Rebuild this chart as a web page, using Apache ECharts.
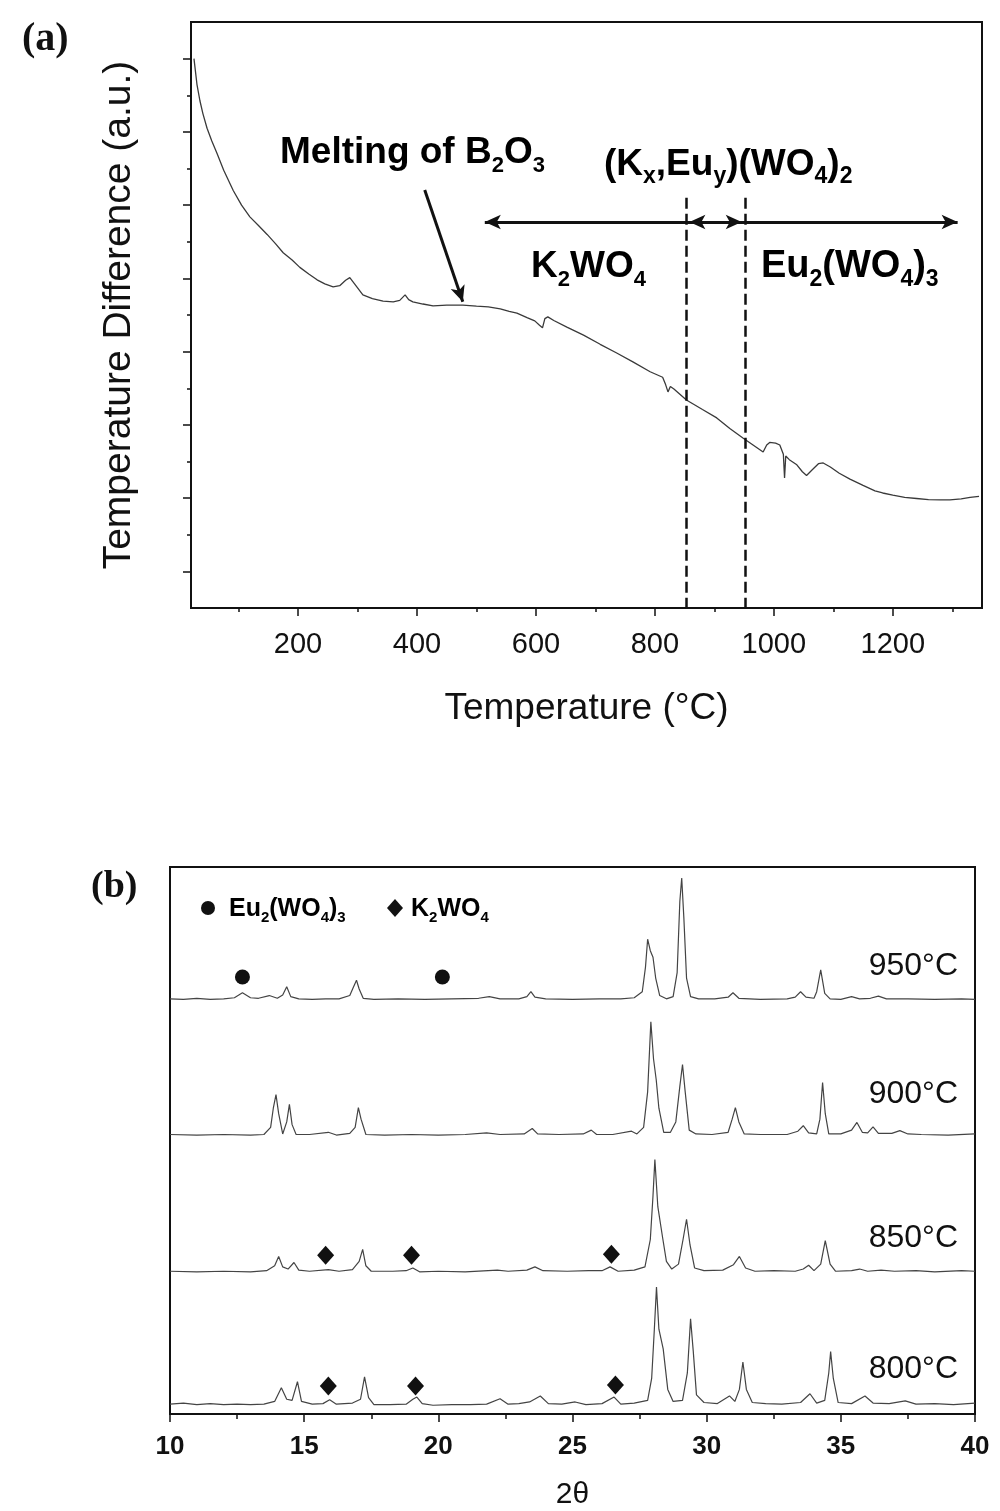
<!DOCTYPE html>
<html><head><meta charset="utf-8">
<script src="https://cdn.jsdelivr.net/npm/echarts@6/dist/echarts.min.js"></script>
<style>html,body{margin:0;padding:0;background:#fff}#c{width:1000px;height:1511px}</style>
</head><body><div id="c"></div>
<script>
// ---------- Panel (a): DTA ----------
const dtaTemperature = [25,30,35,40,47,55,64,75,91,105,119,133,148,162,175,190,203,218,232,245,259,270,280,287,295,309,325,343,360,371,380,386,393,410,427,450,477,500,520,540,555,568,585,598,606,611,615,620,630,652,680,708,735,763,792,813,818,822,826,832,853,880,904,926,948,965,982,988,993,1003,1010,1016,1018,1020,1026,1038,1048,1055,1065,1075,1083,1095,1110,1128,1150,1170,1183,1200,1220,1240,1260,1280,1296,1315,1330,1345];
const dtaDifference = [15.0,14.3,13.85,13.5,13.1,12.75,12.4,11.95,11.4,11.0,10.68,10.45,10.2,9.95,9.7,9.5,9.3,9.12,8.96,8.85,8.77,8.8,8.95,9.02,8.85,8.55,8.45,8.38,8.36,8.4,8.55,8.42,8.36,8.3,8.25,8.27,8.27,8.24,8.22,8.17,8.1,8.05,7.93,7.84,7.72,7.65,7.9,7.95,7.85,7.67,7.45,7.2,6.97,6.72,6.45,6.3,6.1,5.9,6.05,5.98,5.68,5.42,5.19,4.9,4.64,4.45,4.26,4.45,4.52,4.5,4.45,4.2,3.55,4.15,4.05,3.92,3.72,3.62,3.78,3.94,3.96,3.85,3.68,3.52,3.35,3.2,3.14,3.08,3.02,2.99,2.96,2.95,2.95,2.98,3.02,3.05];
const tempMajorTicks = [200,400,600,800,1000,1200];
const tempMinorTicks = [100,300,500,700,900,1100,1300];
const diffMajorTicks = [1,3,5,7,9,11,13,15];
const diffMinorTicks = [2,4,6,8,10,12,14];
const phaseBoundaries = [852,952];          // dashed lines (°C)
const boundaryTop = 11.2;
const phaseArrowY = 10.54;
const phaseArrowSpan = [514,1309];
const middleArrowSpan = [858,946];
const meltingArrow = [[413,11.41],[477,8.36]];

// ---------- Panel (b): XRD ----------
const xrdTicks = [10,15,20,25,30,35,40];
const xrdLabels = ['950°C','900°C','850°C','800°C'];
const xrdOffsets = [75.7,50.9,25.9,1.5];
const xrd950 = [[10,0.2],[10.5,0.1],[11,0.3],[11.5,0.1],[12,0.2],[12.4,0.4],[12.7,1.3],[13.0,0.4],[13.3,0.3],[13.7,0.8],[14.0,0.3],[14.2,0.9],[14.35,2.4],[14.5,0.6],[14.8,0.2],[15.3,0.1],[15.8,0.2],[16.3,0.2],[16.7,0.8],[16.85,2.5],[16.95,3.6],[17.05,2.0],[17.2,0.3],[17.6,0.1],[18.5,0.2],[19.5,0.1],[20.5,0.2],[21.5,0.3],[21.9,0.6],[22.3,0.2],[23.0,0.2],[23.3,0.6],[23.45,1.5],[23.6,0.5],[24,0.2],[25,0.1],[26,0.2],[26.8,0.2],[27.3,0.4],[27.6,1.5],[27.72,6.0],[27.8,11.1],[27.9,9.0],[28.0,7.8],[28.1,4.0],[28.25,0.8],[28.5,0.2],[28.75,0.6],[28.9,5.0],[29.0,18.0],[29.07,22.3],[29.15,15.0],[29.25,4.0],[29.4,0.6],[29.7,0.2],[30.3,0.2],[30.8,0.5],[30.98,1.3],[31.2,0.3],[32,0.1],[33,0.2],[33.3,0.5],[33.5,1.5],[33.7,0.5],[34.0,0.3],[34.1,1.5],[34.25,5.5],[34.4,1.2],[34.6,0.2],[35.0,0.1],[35.4,0.6],[35.7,0.2],[36.1,0.3],[36.4,0.7],[36.7,0.2],[37.5,0.2],[38.5,0.1],[39.5,0.2],[40,0.1]];
const xrd900 = [[10,0.2],[11,0.1],[12,0.2],[13,0.1],[13.5,0.2],[13.75,1.5],[13.85,5.0],[13.95,7.5],[14.05,4.0],[14.2,0.3],[14.35,2.5],[14.45,5.7],[14.55,2.0],[14.7,0.2],[15.2,0.2],[15.9,0.6],[16.2,0.1],[16.7,0.4],[16.9,1.5],[17.02,5.1],[17.12,3.0],[17.3,0.2],[18,0.1],[19,0.2],[20,0.1],[21,0.2],[21.8,0.5],[22.3,0.2],[23.2,0.3],[23.5,1.3],[23.7,0.3],[24.5,0.2],[25.4,0.3],[25.7,1.0],[25.9,0.2],[26.5,0.2],[27.2,0.8],[27.4,0.3],[27.65,1.5],[27.8,8.0],[27.92,20.8],[28.02,14.0],[28.12,10.2],[28.22,5.0],[28.4,0.6],[28.65,0.6],[28.85,2.5],[29.0,9.0],[29.1,13.0],[29.2,8.0],[29.35,1.0],[29.6,0.3],[30.2,0.2],[30.8,0.6],[30.95,3.0],[31.07,5.1],[31.2,2.5],[31.4,0.3],[32,0.2],[33,0.2],[33.4,0.8],[33.6,1.8],[33.8,0.5],[34.1,0.3],[34.22,3.0],[34.32,9.7],[34.42,4.0],[34.55,0.3],[35.0,0.3],[35.4,1.0],[35.6,2.4],[35.8,0.6],[36.0,0.5],[36.2,1.6],[36.4,0.4],[36.9,0.4],[37.2,0.9],[37.5,0.3],[38,0.2],[39,0.1],[40,0.3]];
const xrd850 = [[10,0.2],[11,0.1],[12,0.2],[13,0.1],[13.6,0.3],[13.9,1.2],[14.05,2.9],[14.2,1.0],[14.4,0.6],[14.62,1.8],[14.8,0.4],[15.2,0.2],[15.9,0.5],[16.3,0.2],[16.8,0.5],[17.05,2.0],[17.18,4.2],[17.3,1.2],[17.5,0.2],[18.3,0.2],[18.8,0.3],[19.05,0.8],[19.3,0.1],[20,0.2],[21,0.1],[22.2,0.4],[22.6,0.2],[23.3,0.4],[23.6,1.0],[23.9,0.3],[24.8,0.2],[25.6,0.3],[26.1,0.3],[26.4,1.0],[26.7,0.2],[27.3,0.4],[27.7,1.0],[27.9,6.0],[28.0,14.0],[28.07,20.6],[28.18,12.0],[28.35,6.6],[28.5,2.0],[28.7,0.6],[28.95,1.5],[29.12,6.0],[29.25,9.7],[29.38,5.0],[29.55,0.8],[29.9,0.3],[30.6,0.4],[31.0,1.4],[31.22,2.9],[31.45,0.8],[31.8,0.2],[32.5,0.3],[33.3,0.2],[33.6,0.6],[33.8,1.3],[34.0,0.3],[34.25,1.5],[34.42,5.8],[34.6,1.5],[34.8,0.2],[35.4,0.3],[35.7,0.6],[36.0,0.2],[36.5,0.4],[37,0.2],[37.8,0.3],[38.5,0.1],[39.5,0.3],[40,0.2]];
const xrd800 = [[10,0.3],[10.5,0.5],[11,0.2],[11.5,0.4],[12,0.2],[12.5,0.3],[13,0.2],[13.5,0.3],[13.9,0.8],[14.15,3.3],[14.35,1.2],[14.55,1.0],[14.75,4.4],[14.9,0.8],[15.3,0.3],[15.7,0.4],[15.95,1.1],[16.2,0.3],[16.8,0.5],[17.1,1.2],[17.25,5.3],[17.4,1.5],[17.6,0.2],[18.2,0.2],[18.8,0.3],[19.05,1.2],[19.2,1.6],[19.4,0.4],[19.8,0.1],[20.5,0.2],[21.2,0.2],[21.8,0.3],[22.3,1.3],[22.6,0.3],[23.0,0.4],[23.4,0.7],[23.8,1.8],[24.1,0.4],[24.6,0.3],[25.1,0.7],[25.5,0.2],[26.1,0.4],[26.55,1.6],[26.8,0.3],[27.3,0.5],[27.8,1.0],[27.95,5.0],[28.05,14.0],[28.13,21.7],[28.22,14.0],[28.38,10.4],[28.55,3.0],[28.75,0.8],[29.1,1.0],[29.28,6.0],[29.4,15.9],[29.5,10.0],[29.62,2.0],[29.9,0.6],[30.4,0.4],[30.85,1.8],[31.05,0.8],[31.22,3.0],[31.35,8.0],[31.48,3.0],[31.7,0.6],[32.2,0.4],[32.8,0.3],[33.5,0.6],[33.85,2.2],[34.1,0.5],[34.4,1.0],[34.55,6.0],[34.62,9.9],[34.72,5.0],[34.9,0.6],[35.4,0.4],[35.9,1.8],[36.2,0.5],[36.8,0.4],[37.4,0.9],[37.8,0.3],[38.5,0.4],[39.2,0.2],[40,0.5]];
const eu2wo43Marks = [[12.7,79.9],[20.15,79.9]];
const k2wo4Marks = [[15.8,29.0],[19.0,29.0],[26.45,29.2],[15.9,5.1],[19.15,5.1],[26.6,5.3]];

const SANS = 'Liberation Sans, Arial, Helvetica, sans-serif';
const SERIF = 'Liberation Serif, Times New Roman, serif';
const INK = '#111';

const xrdSeriesData = [xrd950, xrd900, xrd850, xrd800];

function subRich(size, sub){
  return {
    m:{fontSize:size, fontWeight:'bold', fontFamily:SANS, color:INK, lineHeight:size},
    s:{fontSize:sub, fontWeight:'bold', fontFamily:SANS, color:INK, verticalAlign:'bottom', lineHeight:Math.round(size*1.28)}
  };
}
const plain = v => String(v);

const option = {
  animation:false,
  backgroundColor:'#fff',
  grid:[
    {left:191, top:22, width:791, height:586, show:true, borderColor:INK, borderWidth:2, backgroundColor:'transparent'},
    {left:170, top:867, width:805, height:548, show:true, borderColor:INK, borderWidth:2, backgroundColor:'transparent'}
  ],
  xAxis:[
    {gridIndex:0, type:'value', min:20, max:1350, position:'bottom',
      axisLine:{lineStyle:{color:INK, width:2}},
      axisTick:{show:true, length:8, customValues:tempMajorTicks, lineStyle:{color:INK, width:1.5}},
      axisLabel:{customValues:tempMajorTicks, formatter:plain, fontSize:29, margin:22, color:INK, fontFamily:SANS},
      splitLine:{show:false},
      name:'Temperature (°C)', nameLocation:'middle', nameGap:82,
      nameTextStyle:{fontSize:37, color:INK, fontFamily:SANS}},
    {gridIndex:0, type:'value', min:20, max:1350, position:'bottom',
      axisLine:{show:false},
      axisTick:{show:true, length:4, customValues:tempMinorTicks, lineStyle:{color:INK, width:1.5}},
      axisLabel:{show:false}, splitLine:{show:false}},
    {gridIndex:1, type:'value', min:10, max:40, interval:5, position:'bottom',
      axisLine:{lineStyle:{color:INK, width:2}},
      axisTick:{show:true, length:8, lineStyle:{color:INK, width:1.5}},
      minorTick:{show:true, splitNumber:2, length:5, lineStyle:{color:INK, width:1.5}},
      axisLabel:{formatter:plain, fontSize:26, fontWeight:'bold', margin:20, color:INK, fontFamily:SANS},
      splitLine:{show:false},
      name:'2θ', nameLocation:'middle', nameGap:66,
      nameTextStyle:{fontSize:30, color:INK, fontFamily:SANS}}
  ],
  yAxis:[
    {gridIndex:0, type:'value', min:0, max:16, position:'left',
      axisLine:{show:true, lineStyle:{color:INK, width:2}},
      axisTick:{show:true, length:8, customValues:diffMajorTicks, lineStyle:{color:INK, width:1.5}},
      axisLabel:{show:false}, splitLine:{show:false},
      name:'Temperature Difference (a.u.)', nameLocation:'middle', nameGap:52,
      nameTextStyle:{fontSize:39, color:INK, fontFamily:SANS}},
    {gridIndex:0, type:'value', min:0, max:16, position:'left',
      axisLine:{show:false},
      axisTick:{show:true, length:4, customValues:diffMinorTicks, lineStyle:{color:INK, width:1.5}},
      axisLabel:{show:false}, splitLine:{show:false}},
    {gridIndex:1, type:'value', min:0, max:100, position:'left',
      axisLine:{show:true, lineStyle:{color:INK, width:2}},
      axisTick:{show:false}, axisLabel:{show:false}, splitLine:{show:false}}
  ],
  series:[
    {type:'line', xAxisIndex:0, yAxisIndex:0, showSymbol:false, silent:true,
      data: dtaTemperature.map((t,i)=>[t, dtaDifference[i]]),
      lineStyle:{color:'#3a3a3a', width:1.3},
      markLine:{silent:true, animation:false, label:{show:false}, emphasis:{disabled:true},
        symbolSize:[11,16],
        data:[
          [{coord:[phaseBoundaries[0], boundaryTop], symbol:'none', lineStyle:{type:[11,5], width:2.5, color:INK}},
           {coord:[phaseBoundaries[0], 0], symbol:'none'}],
          [{coord:[phaseBoundaries[1], boundaryTop], symbol:'none', lineStyle:{type:[11,5], width:2.5, color:INK}},
           {coord:[phaseBoundaries[1], 0], symbol:'none'}],
          [{coord:[phaseArrowSpan[0], phaseArrowY], symbol:'arrow', lineStyle:{type:'solid', width:3, color:INK}},
           {coord:[phaseArrowSpan[1], phaseArrowY], symbol:'arrow'}],
          [{coord:[middleArrowSpan[0], phaseArrowY], symbol:'arrow', lineStyle:{type:'solid', width:3, color:INK}},
           {coord:[middleArrowSpan[1], phaseArrowY], symbol:'arrow'}],
          [{coord:meltingArrow[0], symbol:'none', lineStyle:{type:'solid', width:3, color:INK}},
           {coord:meltingArrow[1], symbol:'arrow'}]
        ]}
    },
    ...xrdSeriesData.map((arr,k)=>({
      type:'line', xAxisIndex:2, yAxisIndex:2, showSymbol:false, silent:true,
      name:xrdLabels[k],
      data: arr.map(p=>[p[0], p[1]+xrdOffsets[k]]),
      lineStyle:{color:'#444', width:1.2}
    })),
    {type:'scatter', xAxisIndex:2, yAxisIndex:2, silent:true, symbol:'circle', symbolSize:15,
      itemStyle:{color:INK, opacity:1}, data:eu2wo43Marks},
    {type:'scatter', xAxisIndex:2, yAxisIndex:2, silent:true, symbol:'diamond', symbolSize:[17,19],
      itemStyle:{color:INK, opacity:1}, data:k2wo4Marks}
  ],
  graphic:[
    {type:'text', left:22, top:20, style:{text:'(a)', font:'bold 40px '+SERIF, fill:INK}},
    {type:'text', left:91, top:868, style:{text:'(b)', font:'bold 38px '+SERIF, fill:INK}},
    {type:'text', x:280, y:153, style:{text:'{m|Melting of B}{s|2}{m|O}{s|3}', rich:subRich(37,22), verticalAlign:'middle', align:'left'}},
    {type:'text', x:604, y:165, style:{text:'{m|(K}{s|x}{m|,Eu}{s|y}{m|)(WO}{s|4}{m|)}{s|2}', rich:subRich(37,23), verticalAlign:'middle', align:'left'}},
    {type:'text', x:531, y:267, style:{text:'{m|K}{s|2}{m|WO}{s|4}', rich:subRich(37,22), verticalAlign:'middle', align:'left'}},
    {type:'text', x:761, y:267, style:{text:'{m|Eu}{s|2}{m|(WO}{s|4}{m|)}{s|3}', rich:subRich(38,23), verticalAlign:'middle', align:'left'}},
    // panel (b) legend
    {type:'circle', shape:{cx:208, cy:908, r:7}, style:{fill:INK}},
    {type:'text', x:229, y:909, style:{text:'{m|Eu}{s|2}{m|(WO}{s|4}{m|)}{s|3}', rich:subRich(25,15), verticalAlign:'middle', align:'left'}},
    {type:'polygon', shape:{points:[[395,899],[403,908],[395,917],[387,908]]}, style:{fill:INK}},
    {type:'text', x:411, y:909, style:{text:'{m|K}{s|2}{m|WO}{s|4}', rich:subRich(25,15), verticalAlign:'middle', align:'left'}},
    // temperature labels
    {type:'text', x:958, y:966, style:{text:xrdLabels[0], font:'32px '+SANS, fill:INK, align:'right', verticalAlign:'middle'}},
    {type:'text', x:958, y:1094, style:{text:xrdLabels[1], font:'32px '+SANS, fill:INK, align:'right', verticalAlign:'middle'}},
    {type:'text', x:958, y:1238, style:{text:xrdLabels[2], font:'32px '+SANS, fill:INK, align:'right', verticalAlign:'middle'}},
    {type:'text', x:958, y:1369, style:{text:xrdLabels[3], font:'32px '+SANS, fill:INK, align:'right', verticalAlign:'middle'}}
  ]
};
const chart = echarts.init(document.getElementById('c'), null, {renderer:'canvas'});
chart.setOption(option);
</script></body></html>
